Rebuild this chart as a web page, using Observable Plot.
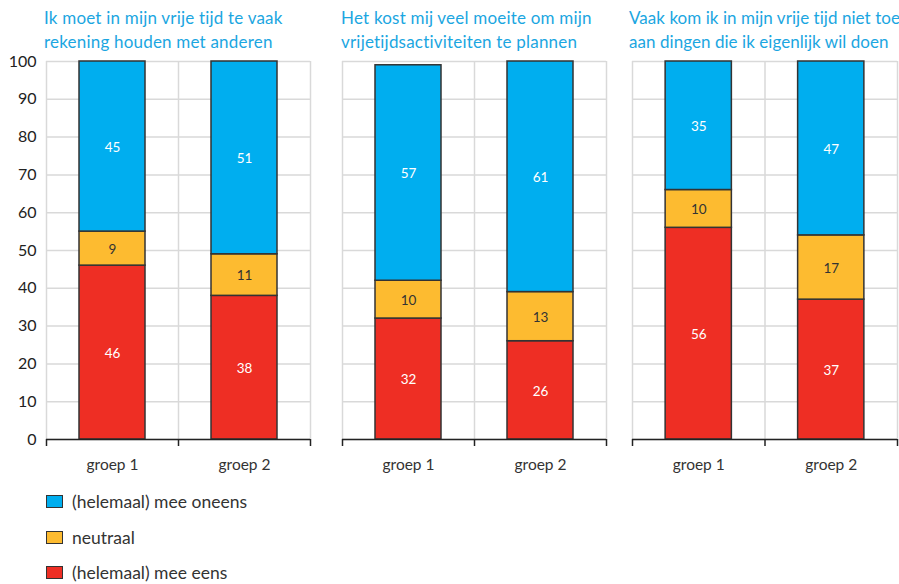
<!DOCTYPE html>
<html>
<head>
<meta charset="utf-8">
<script src="https://cdn.jsdelivr.net/npm/d3@7"></script>
<script src="https://cdn.jsdelivr.net/npm/@observablehq/plot@0.6"></script>
<style>
  html, body { margin: 0; padding: 0; background: #fff; }
  #wrap { position: relative; width: 899px; height: 584px; font-family: Lato, "Open Sans", sans-serif; overflow: hidden; }
  .title { position: absolute; top: 6px; color: #1ba6e1; font-size: 17px; line-height: 23.5px; white-space: nowrap; }
  .panel { position: absolute; top: 50px; }
  .leg { position: absolute; left: 46px; display: flex; align-items: center; font-size: 17.5px; color: #333; }
  .sw { width: 15px; height: 11px; border: 1.5px solid #333; margin-right: 9px; }
</style>
</head>
<body>
<div id="wrap"></div>
<script>
const titles = [
  ["Ik moet in mijn vrije tijd te vaak", "rekening houden met anderen"],
  ["Het kost mij veel moeite om mijn", "vrijetijdsactiviteiten te plannen"],
  ["Vaak kom ik in mijn vrije tijd niet toe", "aan dingen die ik eigenlijk wil doen"]
];
const groups = ["groep 1", "groep 2"];
const categories = ["(helemaal) mee eens", "neutraal", "(helemaal) mee oneens"];
const meeEens   = [[46, 38], [32, 26], [56, 37]];
const neutraal  = [[9, 11], [10, 13], [10, 17]];
const meeOneens = [[45, 51], [57, 61], [35, 47]];
const yTicks = [0, 10, 20, 30, 40, 50, 60, 70, 80, 90, 100];
const colors = ["#ee2e24", "#fdbb30", "#00aeef"];

const wrap = document.getElementById("wrap");

const layout = [
  {left: 0,   ml: 46, mr: 4, w: 314},
  {left: 340, ml: 2,  mr: 2, w: 268},
  {left: 630, ml: 2,  mr: 2, w: 269}
];
const titleLeft = [44, 341, 629];
const titleSpacing = [0.2, 0.2, 0.05];

titles.forEach((t, p) => {
  const d = document.createElement("div");
  d.className = "title";
  d.style.left = titleLeft[p] + "px";
  d.style.letterSpacing = titleSpacing[p] + "px";
  d.innerHTML = t.join("<br>");
  wrap.appendChild(d);

  const series = [meeEens[p], neutraal[p], meeOneens[p]];
  const rows = [];
  groups.forEach((g, gi) => {
    let base = 0;
    series.forEach((s, ci) => {
      const v = s[gi];
      const top = Math.min(base + v, 100);
      rows.push({group: g, gi, cat: categories[ci], ci, value: v, y1: base, y2: top, ym: (base + top) / 2});
      base += v;
    });
  });

  const L = layout[p];
  const edges = d3.range(groups.length + 1);
  const chart = Plot.plot({
    width: L.w,
    height: 440,
    marginLeft: L.ml,
    marginRight: L.mr,
    marginTop: 11,
    marginBottom: 51,
    style: {fontFamily: "Lato, 'Open Sans', sans-serif", color: "#333", background: "transparent"},
    x: {type: "linear", domain: [0, groups.length], axis: null},
    y: {type: "linear", domain: [0, 100], axis: null},
    color: {domain: categories, range: colors},
    marks: [
      Plot.ruleY(yTicks, {stroke: "#d9d9d9", strokeWidth: 1.5}),
      Plot.ruleX(edges, {x: d => d, y1: () => 0, y2: () => 100, stroke: "#d9d9d9", strokeWidth: 1.5}),
      Plot.rect(rows, {
        x1: d => d.gi + 0.25, x2: d => d.gi + 0.75,
        y1: "y1", y2: "y2",
        fill: "cat", stroke: "#333", strokeWidth: 1.5
      }),
      Plot.text(rows.filter(d => d.ci !== 1), {
        x: d => d.gi + 0.5, y: "ym", text: d => String(d.value),
        fill: "#ffffff", fontSize: 13.5, dy: 1
      }),
      Plot.text(rows.filter(d => d.ci === 1), {
        x: d => d.gi + 0.5, y: "ym", text: d => String(d.value),
        fill: "#333333", fontSize: 13.5, dy: 1
      }),
      Plot.ruleY([0], {stroke: "#222", strokeWidth: 1.5}),
      Plot.axisX(edges, {tickSize: 7, tickFormat: () => "", stroke: "#222", strokeWidth: 1.5}),
      Plot.axisX(groups.map((g, i) => i + 0.5), {
        tickSize: 0, tickPadding: 19, tickFormat: d => groups[Math.floor(d)],
        fontSize: 15.5, fill: "#333"
      }),
      ...(p === 0 ? [Plot.axisY(yTicks, {tickSize: 0, tickPadding: 10, fontSize: 16, fill: "#222"})] : [])
    ]
  });
  chart.classList.add("panel");
  chart.style.left = L.left + "px";
  wrap.appendChild(chart);
});

const legOrder = [2, 1, 0];
legOrder.forEach((ci, k) => {
  const d = document.createElement("div");
  d.className = "leg";
  d.style.top = (491 + k * 35.5) + "px";
  d.innerHTML = `<span class="sw" style="background:${colors[ci]}"></span><span>${categories[ci]}</span>`;
  wrap.appendChild(d);
});
</script>
</body>
</html>
